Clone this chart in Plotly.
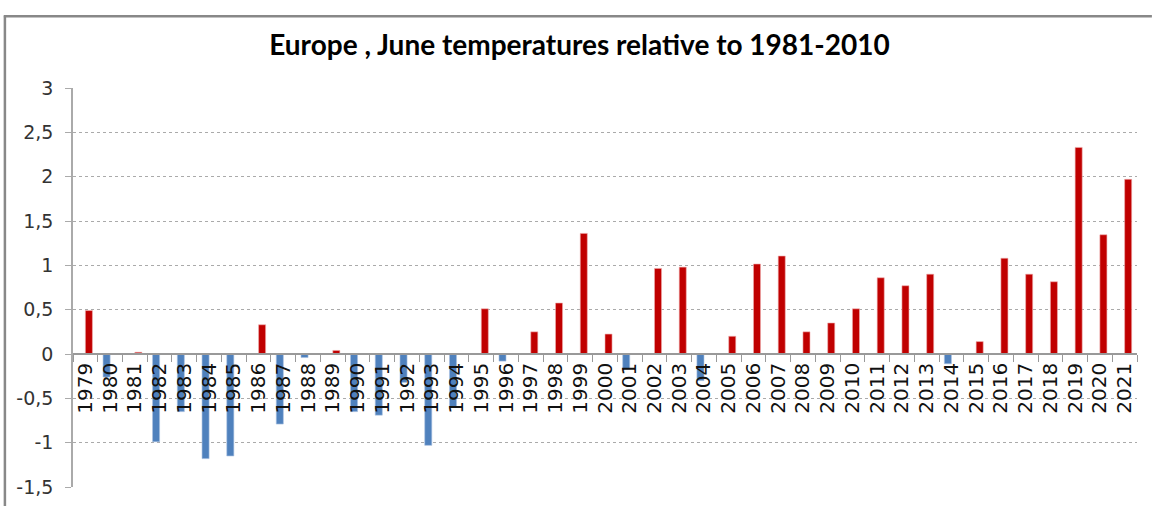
import plotly.graph_objects as go

years = [str(y) for y in range(1979, 2022)]
anomaly = [0.49, -0.26, 0.02, -0.99, -0.65, -1.18, -1.15, 0.33, -0.79, -0.04,
           0.04, -0.65, -0.69, -0.32, -1.03, -0.60, 0.51, -0.08, 0.25, 0.575,
           1.36, 0.225, -0.17, 0.965, 0.98, -0.30, 0.20, 1.015, 1.105, 0.25,
           0.35, 0.51, 0.86, 0.77, 0.90, -0.11, 0.14, 1.08, 0.90, 0.815,
           2.33, 1.345, 1.97]
y_ticks = [-1.5, -1, -0.5, 0, 0.5, 1, 1.5, 2, 2.5, 3]
y_tick_text = ["-1,5", "-1", "-0,5", "0", "0,5", "1", "1,5", "2", "2,5", "3"]

neg = [v if v < 0 else None for v in anomaly]
pos = [v if v >= 0 else None for v in anomaly]

fig = go.Figure()
fig.add_trace(go.Bar(x=years, y=neg, name="below", marker=dict(color="#4F81BD", line=dict(color="#a9c1e0", width=0.6))))
fig.add_trace(go.Bar(x=years, y=pos, name="above", marker=dict(color="#C00000", line=dict(color="#f0b0b0", width=0.6))))

fig.update_layout(
    width=1152, height=506,
    margin=dict(l=73, r=15, t=88, b=19, autoexpand=False),
    paper_bgcolor="white", plot_bgcolor="white",
    barmode="group", bargap=0.43, bargroupgap=0,
    showlegend=False,
    title=dict(text="<b>Europe , June temperatures relative to 1981-2010</b>",
               x=0.503, xanchor="center", y=0.911, yanchor="middle",
               font=dict(family="Lato, Open Sans, sans-serif", size=28, color="#000")),
    xaxis=dict(type="category", anchor="free", position=1/3, automargin=False,
               tickmode="linear", tick0=0, dtick=1,
               tickson="boundaries", ticks="outside", ticklen=7, tickcolor="#999",
               showline=True, linecolor="#999", linewidth=1.5, showgrid=False,
               tickangle=-90, tickfont=dict(family="DejaVu Sans, sans-serif", size=20, color="#111"),
               range=[-0.5, 42.5]),
    yaxis=dict(range=[-1.5, 3], tickvals=y_ticks, ticktext=y_tick_text, automargin=False,
               showgrid=True, gridcolor="#aaa", griddash="dot", gridwidth=1,
               zeroline=False, showline=True, linecolor="#aaa", linewidth=1.5,
               ticks="outside", ticklen=6, tickcolor="#aaa",
               tickfont=dict(family="DejaVu Sans, sans-serif", size=19, color="#333"),
               ticklabelstandoff=8),
    shapes=[
        dict(type="line", xref="paper", yref="paper", x0=-0.065, x1=1.014, y0=1.18, y1=1.18,
             line=dict(color="#888", width=2.5), layer="above"),
        dict(type="line", xref="paper", yref="paper", x0=-0.064, x1=-0.064, y0=1.182, y1=-0.1,
             line=dict(color="#888", width=2.5), layer="above"),
    ],
)

fig.write_html("out.html", config={"displayModeBar": False},
               post_script="document.body.style.margin='0';")
